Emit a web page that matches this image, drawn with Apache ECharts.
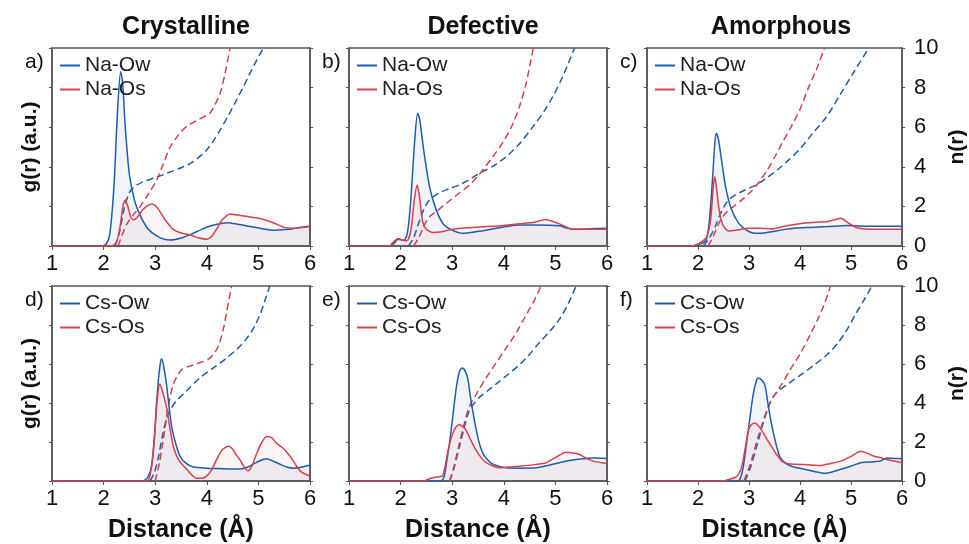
<!DOCTYPE html>
<html>
<head>
<meta charset="utf-8">
<script src="https://cdn.jsdelivr.net/npm/echarts@6/dist/echarts.min.js"></script>
<style>
  html, body { margin: 0; padding: 0; background: #fff; }
  #myChart { width: 969px; height: 544px; }
</style>
</head>
<body>
<div id="myChart"></div>
<script>
// column titles and panel letters
const columns = ['Crystalline', 'Defective', 'Amorphous']
const letters = ['a)', 'b)', 'c)', 'd)', 'e)', 'f)']
const rowNames = [['Na-Ow', 'Na-Os'], ['Cs-Ow', 'Cs-Os']]

// g(r) curves, [distance, g] (arbitrary units, axis 0-5)
const aNaOwG = [[1,0],[1.95,0],[2.05,0.05],[2.12,0.3],[2.2,1.5],[2.27,3.4],[2.33,4.4],[2.37,4.1],[2.42,3.0],[2.5,1.8],[2.6,1.15],[2.7,0.8],[2.85,0.45],[3.0,0.28],[3.15,0.18],[3.3,0.15],[3.5,0.2],[3.7,0.3],[3.9,0.42],[4.1,0.52],[4.4,0.59],[4.6,0.55],[4.85,0.49],[5.1,0.43],[5.3,0.4],[5.6,0.42],[5.8,0.47],[6,0.5]]
const aNaOsG = [[1,0],[2.15,0],[2.25,0.1],[2.32,0.5],[2.38,1.05],[2.42,1.16],[2.47,1.0],[2.53,0.72],[2.58,0.66],[2.65,0.72],[2.75,0.9],[2.85,1.02],[2.94,1.06],[3.05,0.95],[3.2,0.65],[3.35,0.42],[3.5,0.33],[3.7,0.27],[3.85,0.2],[4.0,0.17],[4.1,0.25],[4.2,0.45],[4.3,0.66],[4.45,0.81],[4.6,0.78],[4.9,0.72],[5.1,0.67],[5.3,0.58],[5.5,0.47],[5.7,0.45],[6,0.49]]
const bNaOwG = [[1,0],[1.8,0],[1.88,0.08],[1.95,0.17],[2.02,0.15],[2.08,0.16],[2.14,0.4],[2.2,1.2],[2.27,2.6],[2.33,3.35],[2.37,3.2],[2.45,2.4],[2.56,1.5],[2.68,0.95],[2.82,0.57],[3.0,0.4],[3.21,0.32],[3.45,0.36],[3.66,0.4],[4.05,0.49],[4.3,0.53],[4.63,0.53],[5.08,0.51],[5.2,0.46],[5.34,0.42],[5.6,0.43],[6,0.45]]
const bNaOsG = [[1,0],[1.78,0],[1.86,0.1],[1.95,0.19],[2.02,0.16],[2.12,0.13],[2.2,0.4],[2.26,1.1],[2.32,1.54],[2.36,1.3],[2.43,0.6],[2.5,0.42],[2.63,0.34],[2.8,0.36],[3.0,0.42],[3.3,0.46],[3.66,0.49],[4.0,0.52],[4.3,0.56],[4.6,0.6],[4.8,0.67],[4.95,0.62],[5.08,0.56],[5.34,0.42],[5.6,0.42],[6,0.42]]
const cNaOwG = [[1,0],[1.9,0],[2.0,0.04],[2.1,0.08],[2.16,0.15],[2.22,0.6],[2.28,1.6],[2.33,2.6],[2.36,2.85],[2.4,2.7],[2.47,2.1],[2.54,1.5],[2.65,0.95],[2.8,0.57],[2.95,0.4],[3.12,0.32],[3.3,0.33],[3.44,0.36],[3.7,0.42],[3.89,0.45],[4.2,0.47],[4.54,0.49],[4.93,0.52],[5.3,0.5],[6,0.5]]
const cNaOsG = [[1,0],[1.88,0],[2.0,0.05],[2.1,0.13],[2.18,0.25],[2.25,0.7],[2.3,1.5],[2.33,1.75],[2.36,1.5],[2.4,1.05],[2.44,0.74],[2.5,0.5],[2.6,0.38],[2.75,0.4],[2.99,0.45],[3.2,0.45],[3.44,0.43],[3.7,0.5],[4.02,0.57],[4.3,0.6],[4.54,0.62],[4.7,0.67],[4.8,0.7],[4.95,0.58],[5.12,0.46],[5.5,0.42],[6,0.42]]
const dCsOwG = [[1,0],[2.75,0],[2.85,0.08],[2.93,0.38],[2.98,1.0],[3.02,1.89],[3.07,2.7],[3.11,3.1],[3.13,3.13],[3.17,2.9],[3.22,2.47],[3.27,1.9],[3.32,1.39],[3.4,0.95],[3.48,0.64],[3.6,0.45],[3.74,0.36],[4.0,0.33],[4.19,0.32],[4.45,0.31],[4.64,0.31],[4.8,0.36],[4.95,0.47],[5.16,0.57],[5.3,0.5],[5.42,0.43],[5.55,0.36],[5.68,0.33],[5.85,0.36],[6,0.41]]
const dCsOsG = [[1,0],[2.84,0],[2.92,0.3],[2.99,1.22],[3.04,2.1],[3.09,2.49],[3.14,2.3],[3.22,1.89],[3.28,1.4],[3.35,0.89],[3.45,0.55],[3.61,0.3],[3.72,0.14],[3.8,0.07],[3.9,0.07],[4.0,0.13],[4.1,0.3],[4.19,0.55],[4.3,0.8],[4.42,0.89],[4.5,0.82],[4.58,0.65],[4.64,0.55],[4.72,0.37],[4.8,0.26],[4.88,0.4],[4.97,0.72],[5.07,1.0],[5.16,1.14],[5.25,1.12],[5.35,0.97],[5.48,0.84],[5.61,0.64],[5.72,0.42],[5.81,0.26],[5.9,0.18],[6,0.13]]
const eCsOwG = [[1,0],[2.78,0],[2.84,0.1],[2.88,0.38],[2.95,1.0],[3.01,1.64],[3.08,2.4],[3.14,2.8],[3.19,2.9],[3.24,2.85],[3.3,2.64],[3.36,2.1],[3.43,1.56],[3.5,1.1],[3.59,0.72],[3.68,0.55],[3.79,0.43],[4.04,0.34],[4.3,0.33],[4.63,0.34],[4.85,0.4],[5.08,0.47],[5.3,0.53],[5.53,0.57],[5.73,0.59],[6,0.58]]
const eCsOsG = [[1,0],[2.45,0],[2.55,0.05],[2.65,0.09],[2.75,0.11],[2.81,0.13],[2.86,0.35],[2.91,0.72],[2.96,1.0],[3.01,1.22],[3.07,1.38],[3.14,1.45],[3.2,1.4],[3.27,1.3],[3.36,1.05],[3.46,0.8],[3.56,0.6],[3.66,0.47],[3.8,0.38],[3.92,0.34],[4.1,0.36],[4.3,0.38],[4.6,0.42],[4.82,0.47],[5.0,0.6],[5.2,0.74],[5.35,0.72],[5.47,0.68],[5.6,0.58],[5.73,0.51],[6,0.45]]
const fCsOwG = [[1,0],[2.78,0],[2.84,0.1],[2.89,0.38],[2.95,0.95],[3.02,1.64],[3.08,2.2],[3.14,2.55],[3.18,2.64],[3.24,2.6],[3.31,2.47],[3.37,2.0],[3.44,1.47],[3.52,1.0],[3.6,0.64],[3.7,0.47],[3.83,0.38],[4.09,0.3],[4.3,0.24],[4.48,0.2],[4.65,0.24],[4.8,0.3],[5.0,0.38],[5.19,0.47],[5.4,0.49],[5.57,0.51],[5.7,0.59],[5.85,0.58],[6,0.57]]
const fCsOsG = [[1,0],[2.5,0],[2.6,0.04],[2.73,0.09],[2.8,0.18],[2.86,0.38],[2.92,0.8],[2.99,1.3],[3.05,1.45],[3.12,1.49],[3.18,1.42],[3.25,1.3],[3.34,1.1],[3.44,0.89],[3.54,0.68],[3.64,0.51],[3.75,0.45],[3.89,0.43],[4.1,0.42],[4.41,0.4],[4.6,0.45],[4.8,0.51],[5.0,0.63],[5.19,0.76],[5.3,0.72],[5.44,0.64],[5.57,0.6],[5.7,0.55],[6,0.47]]

// n(r) running coordination numbers, [distance, n] (right axis 0-10)
const aNaOwN = [[2.22,0],[2.3,0.6],[2.4,1.9],[2.5,2.7],[2.6,3.0],[2.77,3.25],[3.0,3.45],[3.23,3.68],[3.5,3.95],[3.7,4.2],[3.9,4.6],[4.0,4.86],[4.15,5.4],[4.26,5.87],[4.42,6.6],[4.58,7.39],[4.72,8.1],[4.84,8.74],[4.97,9.4],[5.1,10]]
const aNaOsN = [[2.28,0],[2.35,0.5],[2.45,1.1],[2.6,1.65],[2.71,2.0],[2.85,2.55],[3.03,3.34],[3.15,4.1],[3.29,5.0],[3.45,5.6],[3.61,6.04],[3.85,6.4],[4.06,6.71],[4.15,7.1],[4.26,7.72],[4.36,8.8],[4.45,10]]
const bNaOwN = [[2.15,0],[2.25,0.4],[2.37,1.3],[2.46,1.9],[2.56,2.33],[2.76,2.7],[2.95,2.9],[3.14,3.09],[3.33,3.35],[3.53,3.68],[3.8,4.05],[4.05,4.52],[4.3,5.15],[4.57,6.04],[4.78,6.8],[4.95,7.55],[5.15,8.6],[5.37,10]]
const bNaOsN = [[2.25,0],[2.35,0.4],[2.45,1.0],[2.56,1.48],[2.72,1.8],[2.89,2.16],[3.1,2.6],[3.34,3.09],[3.55,3.7],[3.79,4.52],[4.0,5.3],[4.18,6.2],[4.31,7.1],[4.44,8.3],[4.57,10]]
const cNaOwN = [[2.1,0],[2.2,0.3],[2.34,1.0],[2.47,1.8],[2.6,2.33],[2.75,2.6],[2.92,2.83],[3.15,3.1],[3.38,3.5],[3.56,3.85],[3.76,4.3],[4.0,4.9],[4.22,5.6],[4.54,6.6],[4.8,7.7],[5.06,8.8],[5.35,10]]
const cNaOsN = [[2.2,0],[2.3,0.5],[2.42,1.2],[2.54,1.65],[2.7,2.0],[2.86,2.33],[3.02,2.7],[3.18,3.17],[3.35,3.8],[3.51,4.52],[3.67,5.3],[3.83,6.04],[4.0,6.9],[4.15,7.9],[4.32,8.9],[4.48,10]]
const dCsOwN = [[2.9,0],[2.98,0.4],[3.06,1.2],[3.15,2.44],[3.22,3.2],[3.28,3.6],[3.41,4.1],[3.6,4.6],[3.87,5.3],[4.1,5.75],[4.38,6.3],[4.6,6.8],[4.77,7.3],[4.92,7.9],[5.04,8.6],[5.12,9.2],[5.22,10]]
const dCsOsN = [[3.0,0],[3.08,0.9],[3.15,2.0],[3.22,3.28],[3.28,4.2],[3.35,4.95],[3.43,5.4],[3.51,5.7],[3.62,5.85],[3.74,5.95],[3.9,6.1],[4.06,6.3],[4.18,6.7],[4.25,7.1],[4.33,7.9],[4.38,8.6],[4.43,9.3],[4.48,10]]
const eCsOwN = [[2.95,0],[3.04,0.7],[3.14,1.77],[3.24,2.8],[3.33,3.6],[3.43,4.0],[3.53,4.3],[3.72,4.7],[3.91,5.1],[4.1,5.5],[4.3,5.95],[4.5,6.5],[4.69,7.1],[4.9,7.7],[5.08,8.3],[5.25,9.1],[5.4,10]]
const eCsOsN = [[2.95,0],[3.04,0.8],[3.14,1.94],[3.24,3.0],[3.33,3.8],[3.5,4.6],[3.66,5.3],[3.85,6.05],[4.04,6.8],[4.24,7.6],[4.43,8.5],[4.58,9.2],[4.72,10]]
const fCsOwN = [[2.92,0],[3.03,0.7],[3.15,1.77],[3.27,2.9],[3.38,3.8],[3.47,4.3],[3.57,4.6],[3.8,5.05],[4.02,5.45],[4.28,5.95],[4.54,6.5],[4.75,7.1],[4.93,7.8],[5.1,8.6],[5.26,9.3],[5.41,10]]
const fCsOsN = [[2.9,0],[3.03,0.9],[3.18,2.27],[3.28,3.1],[3.38,3.8],[3.5,4.4],[3.64,4.95],[3.83,5.8],[4.02,6.6],[4.2,7.5],[4.35,8.3],[4.48,9.1],[4.6,10]]

const xTicks = [1, 6, 1]       // min, max, interval
const gTicks = [0, 5, 1]
const nTicks = [0, 10, 2]

const panels = [
  [aNaOwG, aNaOsG, aNaOwN, aNaOsN],
  [bNaOwG, bNaOsG, bNaOwN, bNaOsN],
  [cNaOwG, cNaOsG, cNaOwN, cNaOsN],
  [dCsOwG, dCsOsG, dCsOwN, dCsOsN],
  [eCsOwG, eCsOsG, eCsOwN, eCsOsN],
  [fCsOwG, fCsOsG, fCsOwN, fCsOsN]
]

const blue = '#1f5cad'
const red = '#d8404a'
const frame = '#555'
const font = 'Liberation Sans, Arial, Helvetica, sans-serif'

const colLeft = [52, 349, 647]
const rowTop = [48, 286]
const plotW = 258
const plotH = 198

let myChart = echarts.init(document.getElementById('myChart'))

let grid = [], xAxis = [], yAxis = [], legend = [], series = [], graphic = []

panels.forEach(function (p, i) {
  let row = Math.floor(i / 3), col = i % 3
  let names = rowNames[row]
  grid.push({
    left: colLeft[col], top: rowTop[row], width: plotW, height: plotH,
    show: true, borderColor: frame, borderWidth: 1.5, backgroundColor: 'transparent'
  })
  xAxis.push({
    type: 'value', gridIndex: i, min: xTicks[0], max: xTicks[1], interval: xTicks[2],
    name: row === 1 ? 'Distance (Å)' : '',
    nameLocation: 'middle', nameGap: 37,
    nameTextStyle: { fontFamily: font, fontSize: 25, fontWeight: 'bold', color: '#111' },
    axisLine: { lineStyle: { color: frame, width: 1.5 } },
    axisTick: { length: 4, lineStyle: { color: frame } },
    axisLabel: { fontFamily: font, fontSize: 22, color: '#111', margin: 7 },
    splitLine: { show: false }
  })
  yAxis.push({
    type: 'value', gridIndex: i, position: 'left',
    min: gTicks[0], max: gTicks[1], interval: gTicks[2],
    name: col === 0 ? 'g(r) (a.u.)' : '',
    nameLocation: 'middle', nameRotate: 90, nameGap: 11,
    nameTextStyle: { fontFamily: font, fontSize: 21, fontWeight: 'bold', color: '#111' },
    axisLine: { show: true, lineStyle: { color: frame, width: 1.5 } },
    axisTick: { show: true, length: 3, lineStyle: { color: frame } },
    axisLabel: { show: false },
    splitLine: { show: false }
  })
  yAxis.push({
    type: 'value', gridIndex: i, position: 'right',
    min: nTicks[0], max: nTicks[1], interval: nTicks[2],
    name: col === 2 ? 'n(r)' : '',
    nameLocation: 'middle', nameRotate: 90, nameGap: 45,
    nameTextStyle: { fontFamily: font, fontSize: 21, fontWeight: 'bold', color: '#111' },
    axisLine: { show: true, lineStyle: { color: frame, width: 1.5 } },
    axisTick: { show: true, length: 3, lineStyle: { color: frame } },
    axisLabel: { show: col === 2, fontFamily: font, fontSize: 22, color: '#111', margin: 12 },
    splitLine: { show: false }
  })
  legend.push({
    data: names, orient: 'vertical',
    left: colLeft[col] + 3, top: rowTop[row] + 2,
    icon: 'rect', itemWidth: 20, itemHeight: 2, itemGap: 3,
    textStyle: { fontFamily: font, fontSize: 21, color: '#222' },
    selectedMode: false
  })
  let cols = [blue, red]
  for (let k = 0; k < 2; k++) {
    series.push({
      name: names[k], type: 'line', xAxisIndex: i, yAxisIndex: 2 * i,
      data: p[k], showSymbol: false, smooth: 0.25, z: 3,
      lineStyle: { color: cols[k], width: 1.5 },
      itemStyle: { color: cols[k] },
      areaStyle: { color: k === 0 ? 'rgba(30,90,175,0.09)' : 'rgba(215,60,70,0.08)' }
    })
  }
  for (let k = 0; k < 2; k++) {
    series.push({
      name: names[k] + ' n', type: 'line', xAxisIndex: i, yAxisIndex: 2 * i + 1,
      data: p[k + 2], showSymbol: false, smooth: 0.3, z: 2,
      lineStyle: { color: cols[k], width: 1.5, type: [7, 4] },
      itemStyle: { color: cols[k] }
    })
  }
  graphic.push({
    type: 'text', left: colLeft[col] - 27, top: rowTop[row] + 4,
    style: { text: letters[i], fontFamily: font, fontSize: 21, fill: '#111' }
  })
})

let title = columns.map(function (c, k) {
  return {
    text: c, left: colLeft[k] + plotW / 2, top: 10, textAlign: 'center',
    textStyle: { fontFamily: font, fontSize: 25, fontWeight: 'bold', color: '#111' }
  }
})

let option = {
  backgroundColor: '#fff',
  animation: false,
  title: title,
  grid: grid,
  xAxis: xAxis,
  yAxis: yAxis,
  legend: legend,
  graphic: graphic,
  series: series
}
myChart.setOption(option)
</script>
</body>
</html>
